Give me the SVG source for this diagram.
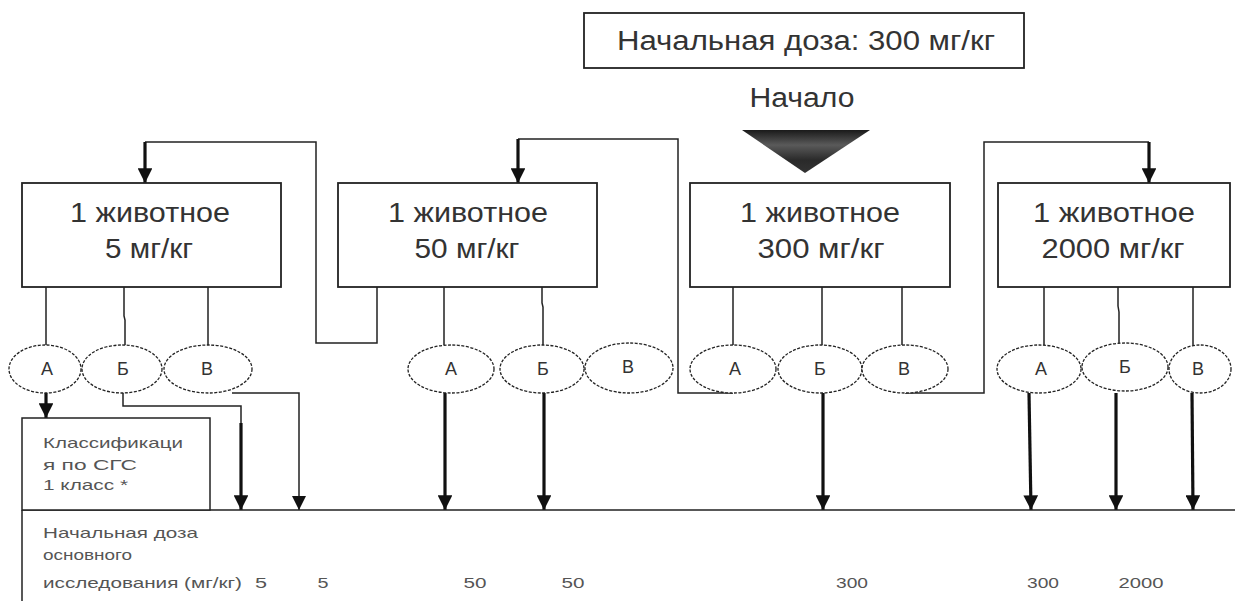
<svg xmlns="http://www.w3.org/2000/svg" width="1235" height="601" viewBox="0 0 1235 601">
<defs>
<linearGradient id="tri" x1="0" y1="0" x2="0" y2="1">
<stop offset="0" stop-color="#1a1a1a"/>
<stop offset="0.35" stop-color="#5a5a5a"/>
<stop offset="0.7" stop-color="#2a2a2a"/>
<stop offset="1" stop-color="#333"/>
</linearGradient>
<marker id="ah" viewBox="0 0 10 10" refX="10" refY="5" markerWidth="4.6" markerHeight="4.6" orient="auto" markerUnits="strokeWidth">
<path d="M0,0 L10,5 L0,10 Z" fill="#111"/>
</marker>
<marker id="ahs" viewBox="0 0 10 10" refX="10" refY="5" markerWidth="9.5" markerHeight="9.5" orient="auto" markerUnits="strokeWidth">
<path d="M0,0 L10,5 L0,10 Z" fill="#111"/>
</marker>
</defs>
<style>
.box{fill:#fff;stroke:#222;stroke-width:1.8}
.ell{fill:#fff;stroke:#222;stroke-width:1.3;stroke-dasharray:3 1.5}
.big{font-family:"Liberation Sans",Arial,sans-serif;font-size:27px;fill:#333;text-anchor:middle}
.lbl{font-family:"Liberation Sans",Arial,sans-serif;font-size:18px;fill:#333;text-anchor:middle}
.sm{font-family:"Liberation Sans",Arial,sans-serif;font-size:15px;fill:#555}
.num{font-family:"Liberation Sans",Arial,sans-serif;font-size:15px;fill:#555;text-anchor:middle}
.thin{fill:none;stroke:#222;stroke-width:1.5}
.thick{fill:none;stroke:#111;stroke-width:3.2;marker-end:url(#ah)}
.thinA{fill:none;stroke:#222;stroke-width:1.5;marker-end:url(#ahs)}
</style>

<g id="start">
<rect class="box" x="584" y="13" width="440" height="55"/>
<text class="big" x="806" y="50" font-size="24" textLength="378" lengthAdjust="spacingAndGlyphs">Начальная доза: 300 мг/кг</text>
<text class="big" x="802" y="107" font-size="25" textLength="105" lengthAdjust="spacingAndGlyphs">Начало</text>
<polygon points="742,130 870,130 805,173" fill="url(#tri)"/>
</g>

<g id="connectors">
<path class="thin" d="M46,287V345 M124,287V316 L125,320V345 M208,287V345"/>
<path class="thin" d="M444,287V345 M542,287V303 L543,307V345"/>
<path class="thin" d="M733,287V345 M822,287V345 M902,287V345"/>
<path class="thin" d="M1044,287V345 M1118,287V306 L1119,312V345 M1193,287V345"/>
<path class="thin" d="M377,287V343H316V142H145"/>
<path class="thick" d="M145,142V183"/>
<path class="thin" d="M733,393H678V139H518"/>
<path class="thick" d="M518,139V183"/>
<path class="thin" d="M905,393H984V142H1149"/>
<path class="thick" d="M1149,142V183"/>
<path class="thick" d="M46,393V418"/>
<path class="thin" d="M123,393V406H241V424"/>
<path class="thick" d="M241,423V510"/>
<path class="thinA" d="M232,393H299V510"/>
<path class="thick" d="M445,393V510"/>
<path class="thick" d="M544,393V510"/>
<path class="thick" d="M823,393V510"/>
<path class="thick" d="M1029,393L1031,510"/>
<path class="thick" d="M1116,393V510"/>
<path class="thick" d="M1192,393L1193,510"/>
<path class="thin" d="M22,510H1235 M22,510V601"/>
</g>

<g id="box1">
<rect class="box" x="22" y="183" width="259" height="104"/>
<text class="big" x="150" y="222" textLength="160" lengthAdjust="spacingAndGlyphs">1 животное</text>
<text class="big" x="149" y="258" textLength="88" lengthAdjust="spacingAndGlyphs">5 мг/кг</text>
</g>
<g id="box2">
<rect class="box" x="338" y="183" width="259" height="104"/>
<text class="big" x="468" y="222" textLength="160" lengthAdjust="spacingAndGlyphs">1 животное</text>
<text class="big" x="467" y="258" textLength="105" lengthAdjust="spacingAndGlyphs">50 мг/кг</text>
</g>
<g id="box3">
<rect class="box" x="690" y="183" width="260" height="104"/>
<text class="big" x="820" y="222" textLength="160" lengthAdjust="spacingAndGlyphs">1 животное</text>
<text class="big" x="821" y="258" textLength="127" lengthAdjust="spacingAndGlyphs">300 мг/кг</text>
</g>
<g id="box4">
<rect class="box" x="998" y="183" width="232" height="104"/>
<text class="big" x="1114" y="222" textLength="162" lengthAdjust="spacingAndGlyphs">1 животное</text>
<text class="big" x="1113" y="258" textLength="143" lengthAdjust="spacingAndGlyphs">2000 мг/кг</text>
</g>

<g id="e1A"><ellipse class="ell" cx="45" cy="369" rx="36" ry="24"/><text class="lbl" x="47" y="375">А</text></g>
<g id="e1B"><ellipse class="ell" cx="122" cy="369" rx="40" ry="24"/><text class="lbl" x="123" y="375">Б</text></g>
<g id="e1V"><ellipse class="ell" cx="208" cy="369" rx="44" ry="24"/><text class="lbl" x="207" y="375">В</text></g>

<g id="e2A"><ellipse class="ell" cx="451" cy="369" rx="43" ry="24"/><text class="lbl" x="451" y="375">А</text></g>
<g id="e2B"><ellipse class="ell" cx="542" cy="369" rx="42" ry="24"/><text class="lbl" x="543" y="375">Б</text></g>
<g id="e2V"><ellipse class="ell" cx="629" cy="368" rx="44" ry="25"/><text class="lbl" x="628" y="373">В</text></g>

<g id="e3A"><ellipse class="ell" cx="733" cy="369" rx="43" ry="24"/><text class="lbl" x="735" y="375">А</text></g>
<g id="e3B"><ellipse class="ell" cx="820" cy="369" rx="42" ry="24"/><text class="lbl" x="820" y="375">Б</text></g>
<g id="e3V"><ellipse class="ell" cx="905" cy="369" rx="43" ry="24"/><text class="lbl" x="904" y="375">В</text></g>

<g id="e4A"><ellipse class="ell" cx="1039" cy="369" rx="42" ry="24"/><text class="lbl" x="1041" y="375">А</text></g>
<g id="e4B"><ellipse class="ell" cx="1125" cy="367" rx="43" ry="24"/><text class="lbl" x="1125" y="373">Б</text></g>
<g id="e4V"><ellipse class="ell" cx="1200" cy="369" rx="31" ry="24"/><text class="lbl" x="1198" y="375">В</text></g>

<g id="classif">
<rect fill="#fff" stroke="#222" stroke-width="1.5" x="22" y="418" width="188" height="92"/>
<text class="sm" x="43" y="448" textLength="140" lengthAdjust="spacingAndGlyphs">Классификаци</text>
<text class="sm" x="43" y="470" textLength="94" lengthAdjust="spacingAndGlyphs">я по СГС</text>
<text class="sm" x="43" y="490" textLength="85" lengthAdjust="spacingAndGlyphs">1 класс *</text>
</g>

<g id="axis">
<text class="sm" x="43" y="538" textLength="155" lengthAdjust="spacingAndGlyphs">Начальная доза</text>
<text class="sm" x="43" y="560" textLength="89" lengthAdjust="spacingAndGlyphs">основного</text>
<text class="sm" x="43" y="588" textLength="199" lengthAdjust="spacingAndGlyphs">исследования (мг/кг)</text>
<text class="num" x="261" y="588" textLength="12" lengthAdjust="spacingAndGlyphs">5</text>
<text class="num" x="323" y="588" textLength="11" lengthAdjust="spacingAndGlyphs">5</text>
<text class="num" x="475" y="588" textLength="23" lengthAdjust="spacingAndGlyphs">50</text>
<text class="num" x="573" y="588" textLength="23" lengthAdjust="spacingAndGlyphs">50</text>
<text class="num" x="852" y="588" textLength="32" lengthAdjust="spacingAndGlyphs">300</text>
<text class="num" x="1043" y="588" textLength="32" lengthAdjust="spacingAndGlyphs">300</text>
<text class="num" x="1141" y="588" textLength="45" lengthAdjust="spacingAndGlyphs">2000</text>
</g>
</svg>
